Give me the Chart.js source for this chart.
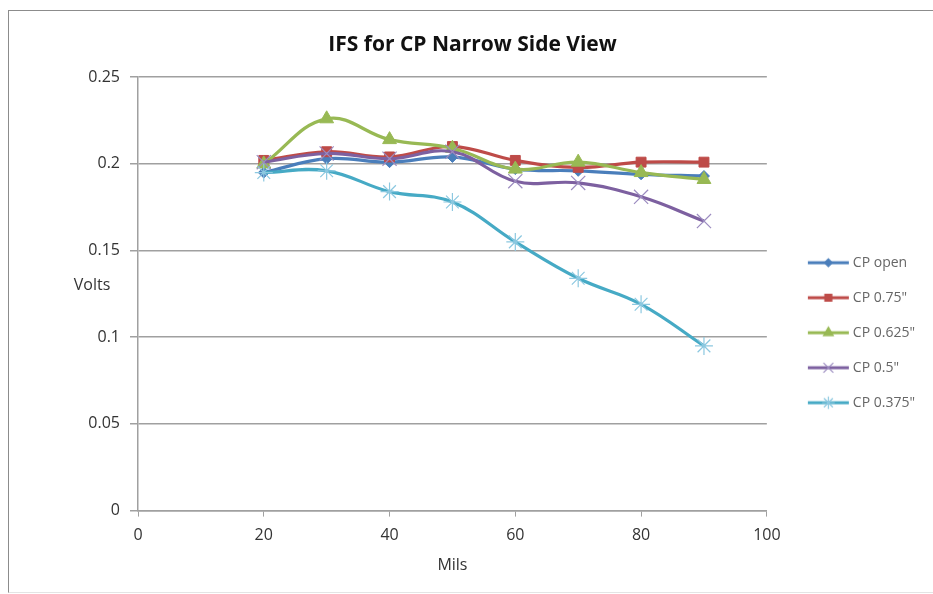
<!DOCTYPE html>
<html>
<head>
<meta charset="utf-8">
<script src="https://cdn.jsdelivr.net/npm/chart.js@4/dist/chart.umd.min.js"></script>
<style>
    html, body { margin: 0; padding: 0; background: #fff; }
    #frame { position: absolute; left: 8px; top: 10px; width: 1000px; height: 581px;
             border-left: 1px solid #8c8c8c; border-top: 1px solid #8c8c8c; border-bottom: 1px solid #e4e4e4; }
    #wrap { position: absolute; left: 0; top: 0; width: 933px; height: 594px; }
</style>
</head>
<body>
<div id="frame"></div>
<div id="wrap"><canvas id="lineChart" width="933" height="594"></canvas></div>
<script>
// values
var mils = [20, 30, 40, 50, 60, 70, 80, 90];
var cpOpen = [0.195, 0.203, 0.201, 0.204, 0.197, 0.196, 0.194, 0.193];
var cp075 = [0.202, 0.207, 0.204, 0.210, 0.202, 0.198, 0.201, 0.201];
var cp0625 = [0.200, 0.226, 0.214, 0.209, 0.197, 0.201, 0.195, 0.191];
var cp05 = [0.201, 0.206, 0.203, 0.207, 0.190, 0.189, 0.181, 0.167];
var cp0375 = [0.195, 0.196, 0.184, 0.178, 0.155, 0.134, 0.119, 0.095];

var seriesNames = ['CP open', 'CP 0.75"', 'CP 0.625"', 'CP 0.5"', 'CP 0.375"'];
var seriesValues = [cpOpen, cp075, cp0625, cp05, cp0375];
var lineColors = ['#4A7EBB', '#BE4B48', '#98B954', '#7D60A0', '#46AAC5'];
var markerFill = ['#4A7EBB', '#BE4B48', '#98B954', '#9C8CC0', '#8CC8E0'];
var markerStyle = ['rectRot', 'rect', 'triangle', 'crossRot', 'star'];
var markerSize = [5.5, 7, 8, 10, 9];

var xTicks = [0, 20, 40, 60, 80, 100];
var yTicks = [0, 0.05, 0.1, 0.15, 0.2, 0.25];

function points(values) {
    return values.map(function (v, i) { return { x: mils[i], y: v }; });
}

var datasets = seriesNames.map(function (name, i) {
    return {
        label: name,
        data: points(seriesValues[i]),
        borderColor: lineColors[i],
        backgroundColor: lineColors[i],
        borderWidth: 3.2,
        tension: 0.4,
        pointStyle: markerStyle[i],
        pointRadius: markerSize[i],
        pointHoverRadius: markerSize[i],
        pointBackgroundColor: markerFill[i],
        pointBorderColor: markerFill[i],
        pointBorderWidth: i > 2 ? 1.2 : 1,
        order: 5 - i
    };
});

// legend sample: short line with the marker in the middle
function legendSample(i) {
    var c = document.createElement('canvas');
    c.width = 66; c.height = 20;
    var g = c.getContext('2d');
    g.strokeStyle = lineColors[i];
    g.lineWidth = 3;
    g.beginPath(); g.moveTo(24, 10); g.lineTo(65, 10); g.stroke();
    g.fillStyle = markerFill[i];
    g.strokeStyle = markerFill[i];
    g.lineWidth = 1.2;
    Chart.helpers.drawPoint(g, { pointStyle: markerStyle[i], radius: markerSize[i] * 0.7, rotation: 0, borderWidth: 1.2 }, 44.5, 10);
    return c;
}

var yTitle = {
    id: 'yTitle',
    afterDraw: function (chart) {
        var ctx = chart.ctx, a = chart.chartArea;
        ctx.save();
        ctx.font = '16px "Open Sans"';
        ctx.fillStyle = '#333';
        ctx.textAlign = 'center';
        ctx.textBaseline = 'middle';
        ctx.fillText('Volts', 92, (a.top + a.bottom) / 2 - 8);
        ctx.restore();
    }
};

var ctx = document.getElementById('lineChart').getContext('2d');
var myChart = new Chart(ctx, {
    type: 'line',
    data: { datasets: datasets },
    plugins: [yTitle],
    options: {
        responsive: false,
        animation: false,
        layout: { padding: { left: 20, right: 8, top: 20, bottom: 19 } },
        scales: {
            x: {
                type: 'linear',
                min: 0, max: 100,
                afterBuildTicks: function (s) { s.ticks = xTicks.map(function (v) { return { value: v }; }); },
                grid: { drawOnChartArea: false, drawTicks: true, tickLength: 6, color: '#a0a0a0' },
                border: { color: '#a0a0a0', width: 1.5 },
                ticks: { color: '#333', font: { family: 'Open Sans', size: 16 }, padding: 9 },
                title: { display: true, text: 'Mils', color: '#333', font: { family: 'Open Sans', size: 16 }, padding: { top: 2, bottom: 0 } }
            },
            y: {
                min: 0, max: 0.25,
                afterBuildTicks: function (s) { s.ticks = yTicks.map(function (v) { return { value: v }; }); },
                afterFit: function (s) { s.width = 118; },
                grid: { color: '#a0a0a0', lineWidth: 1.5, tickLength: 8 },
                border: { color: '#a0a0a0', width: 1.5 },
                ticks: {
                    color: '#333', font: { family: 'Open Sans', size: 16 }, padding: 10,
                    callback: function (v) { return String(Number(v.toFixed(2))); }
                }
            }
        },
        plugins: {
            title: {
                display: true,
                text: 'IFS for CP Narrow Side View',
                color: '#111',
                font: { family: 'Open Sans', size: 21, weight: 'bold' },
                padding: { top: 12, bottom: 20 }
            },
            legend: {
                position: 'right',
                align: 'center',
                title: { display: true, text: '', padding: { top: 56, bottom: 0 } },
                labels: {
                    usePointStyle: true,
                    pointStyleWidth: 58,
                    padding: 21,
                    color: '#333',
                    font: { family: 'Open Sans', size: 14 },
                    generateLabels: function (chart) {
                        return chart.data.datasets.map(function (ds, i) {
                            return {
                                text: ds.label,
                                fillStyle: lineColors[i],
                                strokeStyle: lineColors[i],
                                lineWidth: 0,
                                pointStyle: legendSample(i),
                                hidden: false,
                                datasetIndex: i
                            };
                        });
                    }
                }
            },
            tooltip: { enabled: false }
        }
    }
});
</script>
</body>
</html>
